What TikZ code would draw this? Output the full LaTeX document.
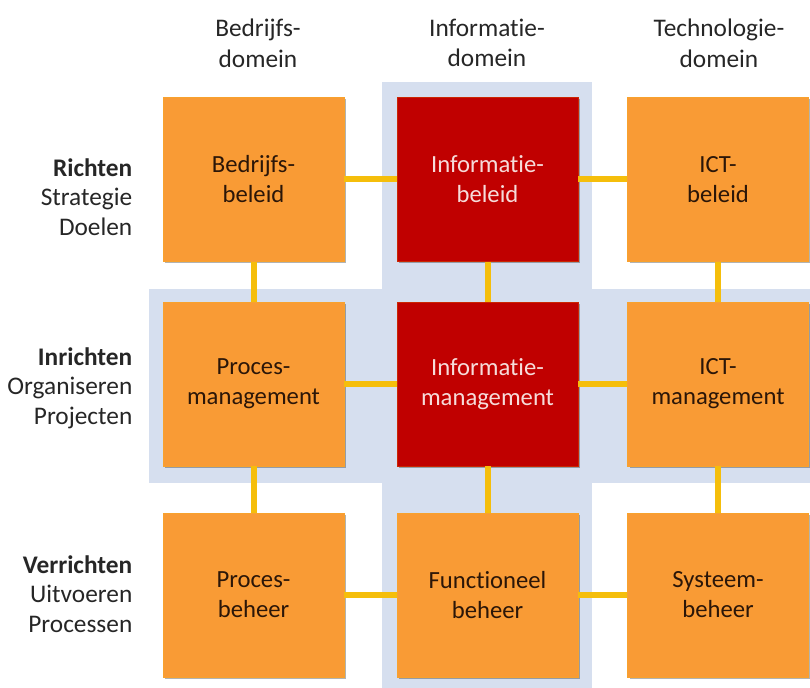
\documentclass[tikz,border=0pt]{standalone}
\usepackage{fontspec}
\setmainfont[RawFeature={-liga;-clig;-dlig;-hlig;-calt}]{Carlito}
\usepackage{xcolor}
\usepackage{tikz}
\usetikzlibrary{shadows, positioning}
\definecolor{oranjebox}{HTML}{F99B35}
\definecolor{roodbox}{HTML}{C00000}
\definecolor{goudlijn}{HTML}{F5BE0B}
\definecolor{lichtblauw}{HTML}{D6DFEF}
\definecolor{tekstdonker}{HTML}{262626}
\definecolor{tekstbruin}{HTML}{2B1608}
\definecolor{tekstlicht}{HTML}{F6DCDA}
\tikzset{
  kop/.style={font=\fontsize{19}{23}\selectfont, text=tekstdonker, align=center},
  rij/.style={font=\fontsize{19}{22}\selectfont, text=tekstdonker, align=right, anchor=east},
  blok/.style={fill=#1, draw=#1!80!goudlijn, line width=0.5pt, minimum width=135.75pt, minimum height=123pt,
               inner sep=0pt, align=center, font=\fontsize{18.5}{22.5}\selectfont,
               drop shadow={shadow xshift=1.5pt, shadow yshift=-1.5pt, opacity=0.3, fill=black}},
  blok/.default=oranjebox,
  link/.style={line width=4.5pt, color=goudlijn},
}

\begin{document}
\begin{tikzpicture}[x=0.75pt, y=0.75pt]
  \useasboundingbox (0,0) rectangle (810,688);
  % banden achter de middelste kolom en de middelste rij
  \fill[lichtblauw] (382,0) rectangle (592,606);
  \fill[lichtblauw] (149,205) rectangle (810,399);
  \foreach \i/\x/\a in {0/258/Bedrijfs-, 1/487/Informatie-, 2/719/Technologie-} {
    \node[kop] (k\i) at (\x,645) {\a\\domein};
  }
  \node[rij] (l0) at (137,491) {\textbf{Richten}\\Strategie\\Doelen};
  \node[rij] (l1) at (137,300) {\textbf{Inrichten}\\Organiseren\\Projecten};
  \node[rij] (l2) at (137,94) {\textbf{Verrichten}\\Uitvoeren\\Processen};
  \foreach \i/\x/\a/\f/\t in {0/253.5/{Bedrijfs-\\beleid}/oranjebox/tekstbruin, 1/487.5/{Informatie-\\beleid}/roodbox/tekstlicht, 2/718/{ICT-\\beleid}/oranjebox/tekstbruin} {
    \node[blok=\f, text=\t] (r\i) at (\x,508.5) {\a};
  }
  \foreach \i/\x/\a/\f/\t in {0/253.5/{Proces-\\management}/oranjebox/tekstbruin, 1/487.5/{Informatie-\\management}/roodbox/tekstlicht, 2/718/{ICT-\\management}/oranjebox/tekstbruin} {
    \node[blok=\f, text=\t] (i\i) at (\x,304) {\a};
  }
  \foreach \i/\x/\a in {0/253.5/{Proces-\\beheer}, 1/487.5/{Functioneel\\beheer}, 2/718/{Systeem-\\beheer}} {
    \node[blok, text=tekstbruin] (v\i) at (\x,93) {\a};
  }
  \foreach \i [evaluate=\i as \j using int(\i+1)] in {0,1} { \draw[link] (r\i) -- (r\j); \draw[link] (i\i) -- (i\j); \draw[link] (v\i) -- (v\j); }
  \foreach \i in {0,1,2} { \draw[link] (r\i) -- (i\i); \draw[link] (i\i) -- (v\i); }
\end{tikzpicture}
\end{document}
